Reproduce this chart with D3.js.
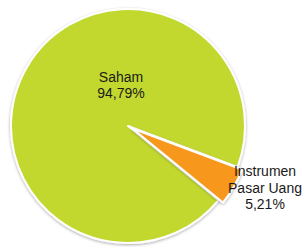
<!DOCTYPE html>
<html><head><meta charset="utf-8">
<script src="https://cdn.jsdelivr.net/npm/d3@7"></script>
<style>html,body{margin:0;padding:0;background:#fff;}svg{display:block;}</style>
</head><body>
<svg id="c" width="303" height="247"></svg>
<script>
const categories = ["Saham", "Instrumen Pasar Uang"];
const values = [94.79, 5.21];
const valueLabels = ["94,79%", "5,21%"];
const labelLines = [["Saham"], ["Instrumen", "Pasar Uang"]];

const colors = ["#c2d82f", "#f7981f"];
const W = 303, H = 247, cx = 128, cy = 126, R = 117;
const startDeg = 129.3;
const explode = [0, 5];
const labelOffset = [[-7, -41], [137, 62]]; // label block centre offsets from pie centre

const svg = d3.select("#c");
const defs = svg.append("defs");
const f = defs.append("filter").attr("id","sh").attr("x","-10%").attr("y","-10%").attr("width","120%").attr("height","120%");
f.append("feDropShadow").attr("dx",0).attr("dy",1).attr("stdDeviation",1.6).attr("flood-color","#000").attr("flood-opacity",0.35);

const pie = d3.pie().sort(null).value(d => d)
  .startAngle(startDeg * Math.PI / 180)
  .endAngle(startDeg * Math.PI / 180 + 2 * Math.PI);
const arcs = pie(values);
const arc = d3.arc().innerRadius(0).outerRadius(R);

const g = svg.append("g").attr("transform", `translate(${cx},${cy})`);
g.selectAll("path").data(arcs).join("path")
  .attr("d", arc)
  .attr("fill", (d,i) => colors[i])
  .attr("stroke", "#fff")
  .attr("stroke-width", 2)
  .attr("stroke-linejoin","round")
  .attr("filter","url(#sh)")
  .attr("transform", (d,i) => {
    const a = (d.startAngle + d.endAngle) / 2;
    return `translate(${Math.sin(a)*explode[i]},${-Math.cos(a)*explode[i]})`;
  });

const lh = 16.5;
arcs.forEach((d,i) => {
  const lines = labelLines[i].concat([valueLabels[i]]);
  const [ox, oy] = labelOffset[i];
  const t = g.append("text")
    .attr("text-anchor","middle")
    .attr("font-family","Liberation Sans, Arial, sans-serif")
    .attr("font-size", 14)
    .attr("fill","#1a1a1a");
  const y0 = oy - (lines.length - 1) * lh / 2;
  lines.forEach((s,k) => {
    t.append("tspan").attr("x", ox).attr("y", y0 + k*lh).attr("dy","0.35em").text(s);
  });
});
</script>
</body></html>
